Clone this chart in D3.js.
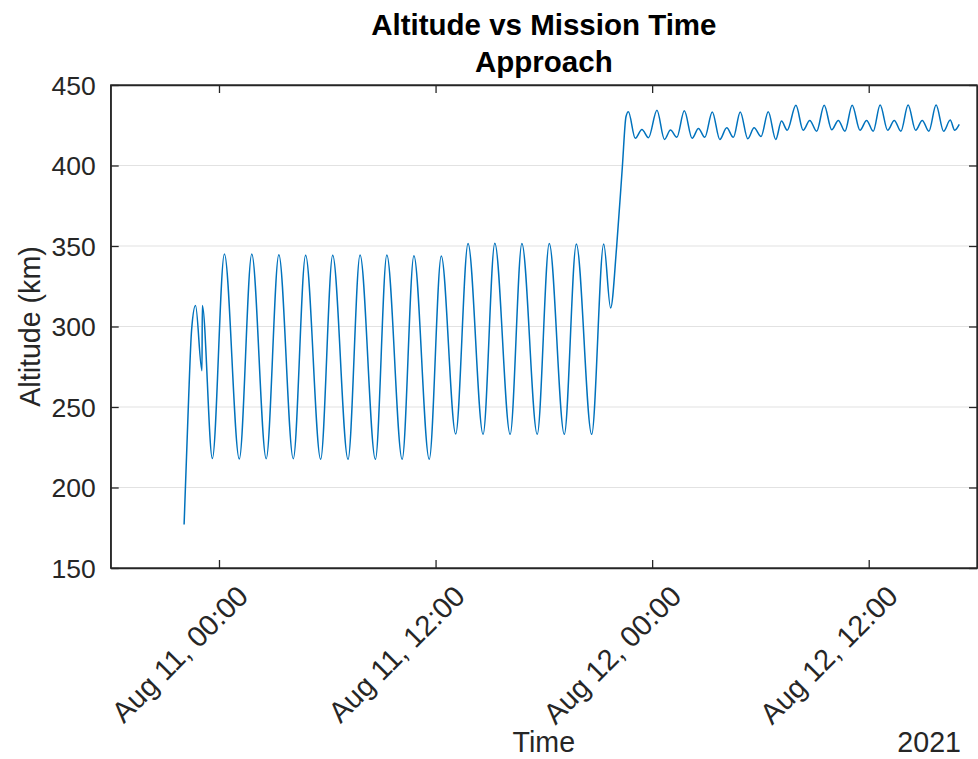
<!DOCTYPE html>
<html>
<head>
<meta charset="utf-8">
<script src="https://cdn.jsdelivr.net/npm/d3@7"></script>
<style>
  body { margin: 0; background: #fff; }
  svg text { font-family: "Liberation Sans", Arial, Helvetica, sans-serif; fill: #262626; }
</style>
</head>
<body>
<div id="altitude-chart"></div>
<script>
// values (times are UTC, altitude in km)
var times = [
    "2021-08-10T22:04", "2021-08-10T22:18", "2021-08-10T22:29", "2021-08-10T22:42",
    "2021-08-10T23:03:30", "2021-08-10T23:04:30", "2021-08-10T23:38",
    "2021-08-11T00:18", "2021-08-11T01:07:30", "2021-08-11T01:49", "2021-08-11T02:37",
    "2021-08-11T03:19", "2021-08-11T04:07", "2021-08-11T04:48", "2021-08-11T05:38",
    "2021-08-11T06:18", "2021-08-11T07:09", "2021-08-11T07:49", "2021-08-11T08:40",
    "2021-08-11T09:18", "2021-08-11T10:09", "2021-08-11T10:48", "2021-08-11T11:39",
    "2021-08-11T12:19", "2021-08-11T13:07", "2021-08-11T13:48", "2021-08-11T14:38",
    "2021-08-11T15:17", "2021-08-11T16:08", "2021-08-11T16:47", "2021-08-11T17:38",
    "2021-08-11T18:18", "2021-08-11T19:08", "2021-08-11T19:48", "2021-08-11T20:39",
    "2021-08-11T21:19", "2021-08-11T21:42", "2021-08-11T22:02", "2021-08-11T22:21",
    "2021-08-11T22:33", "2021-08-11T22:41",
    "2021-08-11T23:04", "2021-08-11T23:26", "2021-08-11T23:48",
    "2021-08-12T00:16", "2021-08-12T00:41", "2021-08-12T01:01", "2021-08-12T01:22",
    "2021-08-12T01:47", "2021-08-12T02:13", "2021-08-12T02:34", "2021-08-12T02:55",
    "2021-08-12T03:20", "2021-08-12T03:45", "2021-08-12T04:08", "2021-08-12T04:30",
    "2021-08-12T04:53", "2021-08-12T05:18", "2021-08-12T05:39", "2021-08-12T06:02",
    "2021-08-12T06:26", "2021-08-12T06:51", "2021-08-12T07:10", "2021-08-12T07:29",
    "2021-08-12T07:58", "2021-08-12T08:22", "2021-08-12T08:44", "2021-08-12T09:07",
    "2021-08-12T09:32", "2021-08-12T09:57", "2021-08-12T10:19", "2021-08-12T10:41",
    "2021-08-12T11:05", "2021-08-12T11:31", "2021-08-12T11:53", "2021-08-12T12:15",
    "2021-08-12T12:38", "2021-08-12T13:03", "2021-08-12T13:25", "2021-08-12T13:47",
    "2021-08-12T14:11", "2021-08-12T14:36", "2021-08-12T14:58", "2021-08-12T15:20",
    "2021-08-12T15:44", "2021-08-12T16:09", "2021-08-12T16:31", "2021-08-12T16:46",
    "2021-08-12T17:01"
];

var altitudes = [
    177, 250, 298, 313,
    272.5, 313, 218,
    345, 217.7, 345, 217.9,
    344.6, 217.9, 344.2, 217.5,
    344.2, 217.5, 344.4, 217.5,
    344.4, 217.5, 344, 217.5,
    343.8, 233.2, 351.5, 233,
    351.7, 233, 351.5, 233,
    351.5, 233, 351.3, 233,
    351.2, 311.5, 349.6, 399.2,
    430.3, 433.4,
    416.9, 422.4, 417.3,
    434.3, 416.2, 422, 417.5,
    434, 416.9, 423, 417.5,
    433.3, 416.2, 423.4, 417.5,
    433.3, 416.6, 423.4, 418,
    433.4, 416.2, 427.6, 421.9,
    437.4, 421.9, 428, 421.3,
    437.4, 422.2, 428, 421.3,
    437.4, 421.9, 428, 421.3,
    437.6, 421.9, 428, 421.3,
    437.6, 421.9, 428, 421.3,
    437.6, 421.3, 428.2, 421.9,
    425.5
];

var yTicks = [150, 200, 250, 300, 350, 400, 450];
var xTicks = ["2021-08-11T00:00", "2021-08-11T12:00", "2021-08-12T00:00", "2021-08-12T12:00"];
var xLimits = ["2021-08-10T18:00", "2021-08-12T18:00"];
var titleLines = ["Altitude vs Mission Time", "Approach"];

let altmargin = {top: 85, right: 1, bottom: 191, left: 110.7}
    , altwidth = 978 - altmargin.left - altmargin.right
    , altheight = 759 - altmargin.top - altmargin.bottom;

var parseTime = d3.isoParse;

let root = d3.select("#altitude-chart").append("svg")
    .attr("width", 978)
    .attr("height", 759);

let altsvg = root.append("g")
    .attr("transform", "translate(" + altmargin.left + "," + altmargin.top + ")");

var altx = d3.scaleTime()
    .domain(xLimits.map(parseTime))
    .range([0, altwidth]);

var alty = d3.scaleLinear()
    .domain([150, 450])
    .range([altheight, 0]);

var axisColor = "#262626";

// horizontal grid
altsvg.append("g")
    .selectAll("line")
    .data(yTicks)
    .enter().append("line")
    .attr("x1", 0)
    .attr("x2", altwidth)
    .attr("y1", d => alty(d))
    .attr("y2", d => alty(d))
    .style("stroke", "#e2e2e2")
    .style("stroke-width", 1.2);

var data = times.map(function (t, i) {
    return {time: parseTime(t), alt: altitudes[i]};
});

var line = d3.line()
    .curve(d3.curveMonotoneX)
    .x(d => altx(d.time))
    .y(d => alty(d.alt));

altsvg.append("path")
    .datum(data)
    .attr("d", line)
    .style("fill", "none")
    .style("stroke", "#0072BD")
    .style("stroke-width", 1.5);

// axes, ticks pointing inward like matlab
var tickFmt = d3.timeFormat("%b %d, %H:%M");

altsvg.append("g")
    .attr("class", "xaxis")
    .attr("transform", "translate(0," + altheight + ")")
    .call(d3.axisBottom(altx).tickValues(xTicks.map(parseTime)).tickSizeInner(-8).tickSizeOuter(0).tickFormat(""));

altsvg.append("g")
    .attr("class", "xaxis-top")
    .call(d3.axisTop(altx).tickValues(xTicks.map(parseTime)).tickSizeInner(-8).tickSizeOuter(0).tickFormat(""));

var yl = altsvg.append("g")
    .attr("class", "yaxis")
    .call(d3.axisLeft(alty).tickValues(yTicks).tickSizeInner(-8).tickSizeOuter(0).tickPadding(15));

altsvg.append("g")
    .attr("class", "yaxis-right")
    .attr("transform", "translate(" + altwidth + ",0)")
    .call(d3.axisRight(alty).tickValues(yTicks).tickSizeInner(-8).tickSizeOuter(0).tickFormat(""));

altsvg.selectAll(".domain, .tick line")
    .style("stroke", axisColor)
    .style("stroke-width", 1.3);

yl.selectAll("text")
    .style("font-size", "26.5px")
    .style("fill", axisColor)
    .attr("dy", "0.34em");

// rotated x tick labels
altsvg.append("g")
    .selectAll("text")
    .data(xTicks.map(parseTime))
    .enter().append("text")
    .attr("transform", d => "translate(" + (altx(d) + 31) + "," + (altheight + 30) + ") rotate(-45)")
    .attr("text-anchor", "end")
    .style("font-size", "29px")
    .text(d => tickFmt(d).replace(/ 0(\d),/, " $1,"));

// axis labels
altsvg.append("text")
    .attr("transform", "translate(-71," + (altheight / 2) + ") rotate(-90)")
    .attr("text-anchor", "middle")
    .style("font-size", "28.6px")
    .text("Altitude (km)");

altsvg.append("text")
    .attr("x", altwidth / 2)
    .attr("y", altheight + 184)
    .attr("text-anchor", "middle")
    .style("font-size", "28.6px")
    .text("Time");

altsvg.append("text")
    .attr("x", altwidth - 16)
    .attr("y", altheight + 184)
    .attr("text-anchor", "end")
    .style("font-size", "28.6px")
    .text("2021");

// two-line bold title
root.append("g")
    .selectAll("text")
    .data(titleLines)
    .enter().append("text")
    .attr("x", altmargin.left + altwidth / 2)
    .attr("y", (d, i) => 35 + i * 37)
    .attr("text-anchor", "middle")
    .style("font-size", "29.5px")
    .style("font-weight", "bold")
    .style("fill", "#000")
    .text(d => d);

// box outline
altsvg.append("rect")
    .attr("width", altwidth)
    .attr("height", altheight)
    .style("fill", "none")
    .style("stroke", axisColor)
    .style("stroke-width", 1.3);
</script>
</body>
</html>
